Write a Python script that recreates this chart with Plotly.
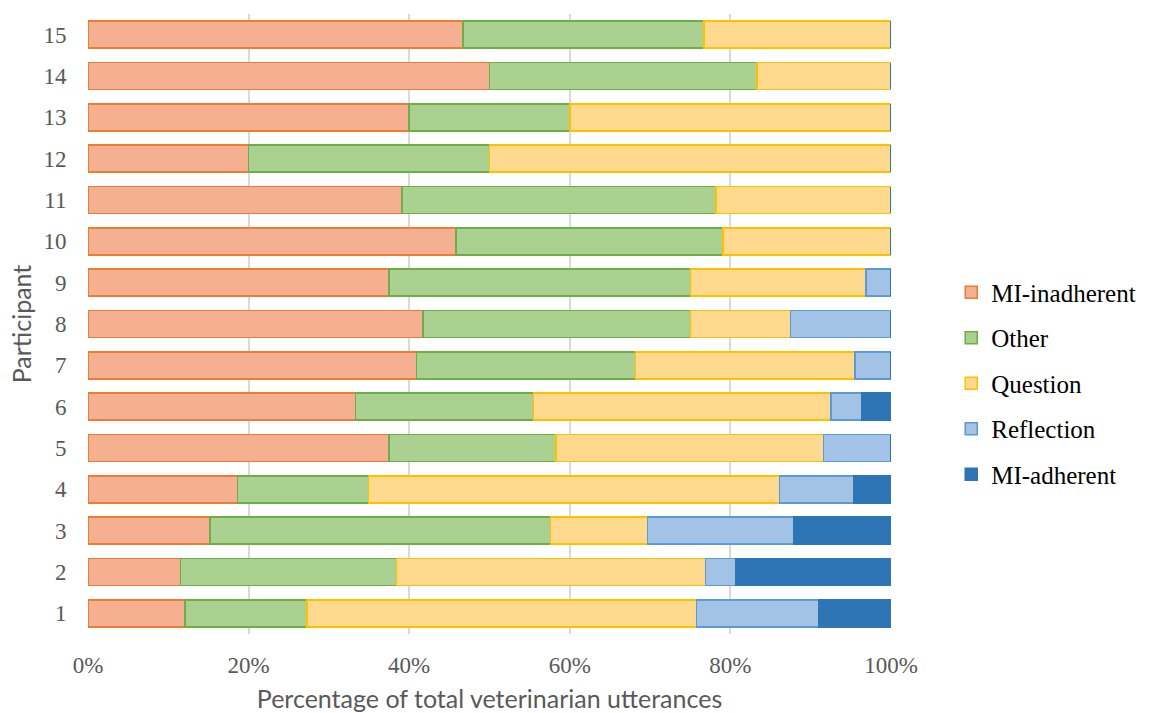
import plotly.graph_objects as go

# Share of each veterinarian's utterances by MI code (percent), participants 1..15
participants = list(range(1, 16))
mi_inadherent = [12.1, 11.5, 15.2, 18.6, 37.5, 33.3, 40.9, 41.7, 37.5, 45.8, 39.1, 20.0, 40.0, 50.0, 46.7]
other = [15.2, 26.9, 42.4, 16.3, 20.8, 22.2, 27.3, 33.3, 37.5, 33.3, 39.1, 30.0, 20.0, 33.3, 30.0]
question = [48.5, 38.5, 12.1, 51.2, 33.3, 37.0, 27.3, 12.5, 21.9, 20.9, 21.8, 50.0, 40.0, 16.7, 23.3]
reflection = [15.2, 3.8, 18.2, 9.3, 8.4, 3.8, 4.5, 12.5, 3.1, 0, 0, 0, 0, 0, 0]
mi_adherent = [9.0, 19.3, 12.1, 4.6, 0, 3.7, 0, 0, 0, 0, 0, 0, 0, 0, 0]
x_ticks = [0, 20, 40, 60, 80, 100]
x_tick_labels = ["0%", "20%", "40%", "60%", "80%", "100%"]

series = [
    ("MI-inadherent", mi_inadherent, "#F5AF91", "#ED7D31"),
    ("Other", other, "#ABD191", "#70AD47"),
    ("Question", question, "#FFD98E", "#FFC000"),
    ("Reflection", reflection, "#A2C3E6", "#5B9BD5"),
    ("MI-adherent", mi_adherent, "#2E75B6", "#2E75B6"),
]

fig = go.Figure()
for i, (name, vals, fill, edge) in enumerate(series):
    fig.add_trace(go.Bar(
        y=participants, x=vals, name=name, orientation="h",
        legendgroup=str(i),
        marker=dict(color=fill, line=dict(color=edge, width=1.5)),
    ))

serif = "Liberation Serif"
tick_font = dict(family=serif, size=23, color="#595959")
title_font = dict(family="Lato", size=25, color="#595959")

fig.update_layout(
    barmode="stack",
    bargap=0.35,
    width=1155, height=713,
    margin=dict(l=88, r=264, t=14, b=79),
    plot_bgcolor="white", paper_bgcolor="white",
    legend=dict(
        x=1.075, xanchor="left", y=0.588, yanchor="top",
        traceorder="grouped", tracegroupgap=10,
        font=dict(family=serif, size=25, color="#000000"),
        itemwidth=30,
    ),
    xaxis=dict(
        range=[0, 100], tickvals=x_ticks, ticktext=x_tick_labels,
        showgrid=True, gridcolor="#D9D9D9", gridwidth=1.5,
        zeroline=False, showline=False, automargin=False,
        ticks="outside", ticklen=10, tickcolor="rgba(0,0,0,0)",
        tickfont=tick_font,
        title=dict(text="Percentage of total veterinarian utterances", font=title_font, standoff=14),
    ),
    yaxis=dict(
        range=[0.5, 15.5], tickvals=participants,
        showgrid=False, zeroline=False, showline=False, automargin=False,
        ticks="outside", ticklen=16, tickcolor="rgba(0,0,0,0)",
        tickfont=tick_font,
        title=dict(text="Participant", font=title_font, standoff=4),
    ),
)

fig.write_html("out.html")
